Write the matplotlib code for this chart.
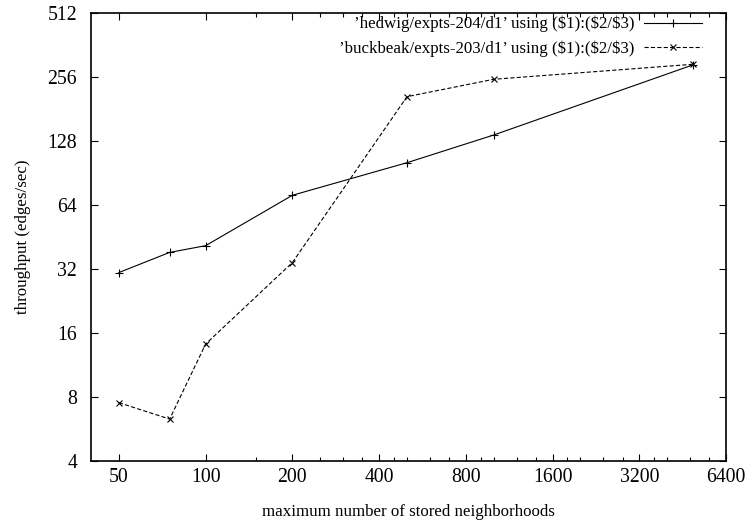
import numpy as np
import matplotlib
matplotlib.use("Agg")
import matplotlib.pyplot as plt
from matplotlib.ticker import FixedLocator, NullFormatter

plt.rcParams['font.family'] = ['Liberation Serif', 'DejaVu Serif']
plt.rcParams['lines.scale_dashes'] = False

# data
x = [50, 75, 100, 200, 500, 1000, 4900]
hedwig = [30.8, 38.3, 41.2, 71.1, 101.2, 136.6, 291.5]
buckbeak = [7.52, 6.30, 14.2, 34.3, 206.9, 249.8, 293.7]

label_h = "\u2019hedwig/expts-204/d1\u2019 using ($1):($2/$3)"
label_b = "\u2019buckbeak/expts-203/d1\u2019 using ($1):($2/$3)"

xticks = [50, 100, 200, 400, 800, 1600, 3200, 6400]
xminor = [150, 250, 300, 350, 450, 500, 600, 700, 900, 1000, 1200, 1400,
          1800, 2000, 2400, 2800, 3600, 4000, 4800, 5600]
yticks = [4, 8, 16, 32, 64, 128, 256, 512]

fs = 12.2      # labels, legend
tfs = 14.2     # tick labels
fig = plt.figure(figsize=(7.48, 5.25), dpi=100)
ax = fig.add_axes([91/748, 1 - 461/525, (726-91)/748, (461-13)/525])

ax.plot(x, hedwig, color='black', lw=0.8, marker='+', ms=6, mew=0.8, label=label_h)
ax.plot(x, buckbeak, color='black', lw=0.8, ls=(0, (3, 1.6)), marker='x', ms=5, mew=0.8,
        label=label_b)

ax.set_xscale('log')
ax.set_yscale('log')
ax.set_xlim(40, 6400)
ax.set_ylim(4, 512)

ax.xaxis.set_major_locator(FixedLocator(xticks))
ax.xaxis.set_minor_locator(FixedLocator(xminor))
ax.set_xticklabels([str(t) for t in xticks])
ax.xaxis.set_minor_formatter(NullFormatter())
ax.yaxis.set_major_locator(FixedLocator(yticks))
ax.yaxis.set_minor_locator(FixedLocator([]))
ax.set_yticklabels([str(t) for t in yticks])

ax.tick_params(which='both', direction='in', top=True, right=True, labelsize=tfs, color='black')
ax.tick_params(which='major', length=5, width=0.8)
ax.tick_params(which='minor', length=3, width=0.8)
ax.tick_params(axis='y', pad=10)
ax.tick_params(axis='x', pad=5)
for s in ax.spines.values():
    s.set_linewidth(1.2)
    s.set_color('black')

ax.set_xlabel('maximum number of stored neighborhoods', fontsize=fs, labelpad=12)
ax.set_ylabel('throughput (edges/sec)', fontsize=fs, labelpad=12)

ax.legend(loc='upper right', bbox_to_anchor=((702-91)/635, (461-16)/448), frameon=False,
          fontsize=fs, markerfirst=False, handlelength=3.4, handletextpad=0.6,
          borderaxespad=0, borderpad=0, labelspacing=0.45)

fig.savefig('out.png', dpi=100)
